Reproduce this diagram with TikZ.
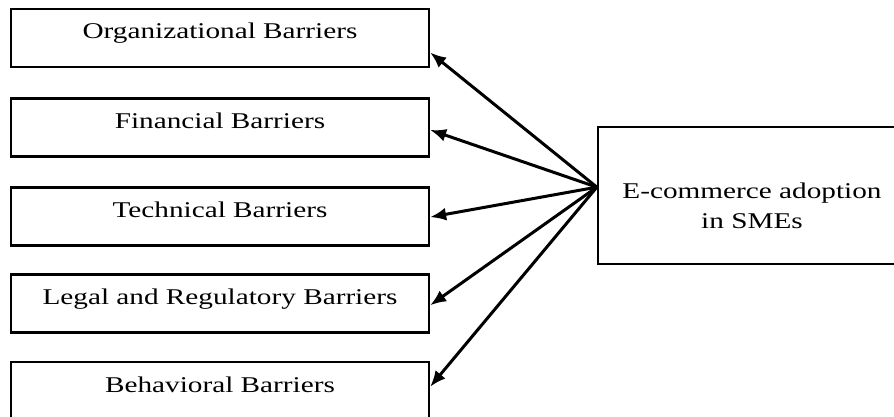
\documentclass[tikz,border=0pt]{standalone}
\usepackage{fontspec}
\setmainfont{Liberation Serif}[FakeStretch=1.3]
\usetikzlibrary{calc,arrows.meta}
\begin{document}
\begin{tikzpicture}[x=1pt,y=1pt,
  barrier/.style={draw, line width=2.3pt, minimum width=418pt, minimum height=58pt,
    inner sep=0pt, text height=30pt, text depth=28pt,
    font=\fontsize{22.5}{30}\selectfont},
  mainbox/.style={draw, line width=2.3pt, minimum width=308pt, minimum height=137pt, inner sep=0pt},
  lbl/.style={align=center, inner sep=0pt, font=\fontsize{22.5}{30}\selectfont},
  link/.style={line width=3pt, -{Latex[length=16pt,width=13pt]}}]
\path[use as bounding box, clip] (0,0) rectangle (894,416);
\fill[white] (0,0) rectangle (894,416);
\node[barrier] (b1) at (220,378) {Organizational Barriers};
\node[barrier] (b2) at (220,288.5) {Financial Barriers};
\node[barrier] (b3) at (220,199.5) {Technical Barriers};
\node[barrier] (b4) at (220,112.5) {Legal and Regulatory Barriers};
\node[barrier] (b5) at (220,25) {Behavioral Barriers};
\node[mainbox] (e) at (752,220.5) {};
\node[lbl, anchor=north] (et) at (752,416-183) {E-commerce adoption\\in SMEs};
\coordinate (apex) at ($(e.north west)!0.44!(e.south west)$);
\coordinate (t1) at ($(b1.north east)!0.74!(b1.south east)$);
\coordinate (t2) at ($(b2.north east)!0.54!(b2.south east)$);
\coordinate (t3) at ($(b3.north east)!0.51!(b3.south east)$);
\coordinate (t4) at ($(b4.north east)!0.53!(b4.south east)$);
\coordinate (t5) at ($(b5.north east)!0.43!(b5.south east)$);
\foreach \t in {t1,t2,t3,t4,t5} \draw[link] (apex) -- (\t);
\end{tikzpicture}
\end{document}
